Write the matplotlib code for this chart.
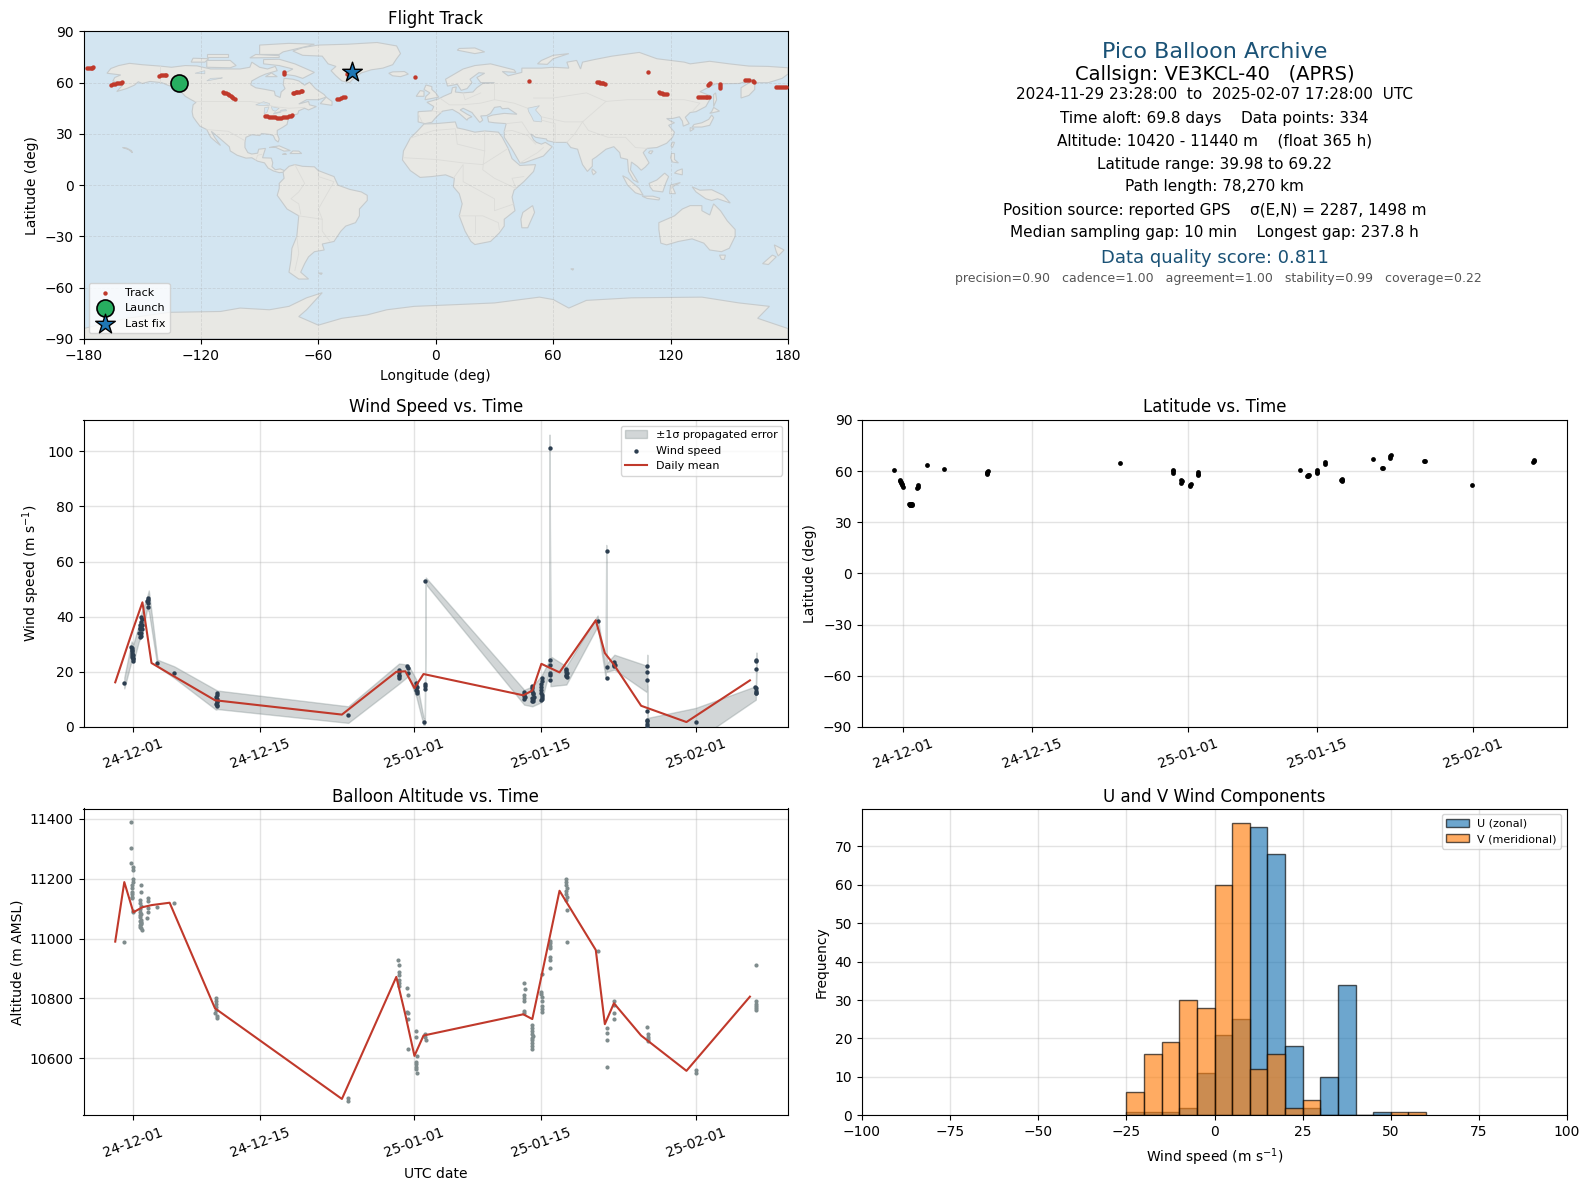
import numpy as np
import matplotlib
matplotlib.use("Agg")
import matplotlib.pyplot as plt
import matplotlib.dates as mdates
from datetime import datetime

# ---- map outlines (lon, lat)
north_america = [(-168,65.5),(-166,68.3),(-162,70),(-156.5,71.3),(-150,70.5),(-141,69.7),(-135,69),(-128,70),(-122,69.8),(-115,68),(-108,68),(-100,68),(-95,69),(-94,72),(-90,69),(-86,68),(-82,69.5),(-81,67),(-87,65),(-90,63.5),(-94,61),(-94.5,58.7),(-92,57),(-87,56),(-82.5,55),(-82,52.5),(-79.5,51.3),(-79,54.5),(-77,56.5),(-78,59),(-77.5,62.5),(-73,62),(-70,61),(-67,58.5),(-64.5,60.3),(-61.5,56.5),(-57,53),(-56,51.5),(-60,50),(-66,50),(-70,47.5),(-65,49),(-64.5,47),(-61,46),(-65,44),(-67,45),(-70,43.5),(-70.5,41.7),(-74,40.5),(-75.5,38),(-76,35.5),(-78,34),(-81,32),(-81,30),(-80,27),(-80.5,25.2),(-82,26.5),(-83,29),(-85,29.7),(-89,30.2),(-90,29),(-94,29.5),(-97,28),(-97.5,25),(-97.5,22),(-96,19),(-94,18.2),(-91,18.7),(-90.5,21),(-87,21.5),(-88,18),(-88.5,16),(-84,15.8),(-83.3,13),(-83.7,10.8),(-82,9),(-79.5,9.5),(-77.3,8.5),(-78,7.5),(-80,7.3),(-83,8.3),(-85.7,10),(-87.5,13),(-91,14),(-94,16),(-97,15.8),(-101.5,17.5),(-105,20),(-105.5,22.5),(-109,26),(-112.5,29.5),(-114.7,31.5),(-113,28),(-110,23.2),(-112,25),(-115,28),(-117,32.5),(-120.5,34.5),(-122.5,37.5),(-124,40),(-124.5,43),(-124,47),(-122.5,48.5),(-125,50),(-128,52),(-130,54.5),(-133,57),(-137,58.5),(-140,60),(-146,60.7),(-150,59.5),(-152,60.5),(-154,58.5),(-158,56.5),(-163,54.8),(-160,58.5),(-162,60),(-165,61),(-164,63),(-161,64.5)]
greenland = [(-73,78.5),(-68,80.5),(-60,82),(-45,82.5),(-30,83.5),(-20,81.5),(-18,77),(-20,74),(-22,70.5),(-27,68.5),(-33,67.5),(-38,65.7),(-42,62.5),(-44,60),(-48,61),(-51,64),(-53.5,67),(-51,69.5),(-55,71),(-58,75.5),(-68,76)]
south_america = [(-77.3,8.5),(-75,11),(-72,12),(-68,11),(-62,10.7),(-60,8.5),(-52,5),(-50,0),(-44,-2.5),(-38,-4),(-35,-6),(-35,-9),(-39,-14),(-39,-18),(-41,-22),(-46,-24),(-48.5,-27),(-52,-33),(-58,-34.5),(-57,-38),(-62,-39),(-65,-42),(-67,-46),(-69,-51),(-65,-55),(-70,-55),(-75,-51),(-74,-44),(-73.5,-37),(-71,-30),(-70,-18),(-76,-14),(-81,-6),(-80,-2),(-80,1),(-77.5,4),(-78,7.5)]
africa = [(-6,35.8),(0,36),(10,37),(11,33.5),(15,32.5),(20,31),(25,31.7),(32,31),(34,28),(37,21.5),(39,15.5),(43,11.5),(51,12),(50,8),(45,2),(40,-3),(39,-7),(40.5,-15),(35,-20),(35,-24),(32.5,-28),(28,-33),(20,-34.8),(18,-33),(15,-27),(12,-18),(13.5,-11),(12,-5),(9,-1),(9.5,4),(5,6),(-2,5),(-8,4.5),(-13,8.5),(-17,14.7),(-16.5,20),(-13,27.5),(-9.5,31.5)]
eurasia = [(-9,38.7),(-9,43),(-2,43.5),(-1,46),(-4.5,48.5),(1.5,50.5),(4,52),(8,54),(8.5,57),(10.5,57.5),(10,54.5),(14,54),(19,54.5),(21,57),(24,59.5),(30,60),(23,60),(21,63),(25,65.5),(22,65.8),(17.5,62),(18.5,60),(16,56.5),(13,55.5),(11,59),(6,58),(5,62),(14,68),(20,70),(28,71),(40,67.5),(41,66),(34,66.5),(37,64),(44,66),(44,68.5),(54,68.5),(60,69),(68,68.5),(67,72),(72,73),(74,68),(75,72),(81,73.5),(90,75.5),(104,77.7),(113,74),(127,72),(130,71),(140,72.5),(150,71),(160,69.7),(170,69.5),(180,68.7),(180,65),(177,62.5),(170,60),(163,60),(163,56),(160,52.5),(156,51),(156,57),(163,62),(155,59.5),(143,59.3),(135,54.7),(141,52),(138,46),(133,43),(130,42.5),(127.5,39.7),(129.5,36),(126.5,34.5),(126,37.5),(124.5,40),(121,39),(118,39),(120,37.5),(122,36.5),(119,35),(122,31),(121,28),(118,24.5),(113,22),(108,21.5),(106,19),(109,13),(107,10.5),(105,8.7),(103,11),(100,13.5),(99.5,9),(103.5,1.5),(101,3),(98.5,8),(98,15),(94.5,16),(94,19),(91,22.5),(87,21),(82,16.5),(80,15),(80,11),(77.5,8),(75,12),(73,19),(72.5,21),(69,22),(67,25),(61,25),(57,26),(56.5,27),(51,28),(48.5,30),(50,26.5),(51.5,25),(54,24),(56,25),(59.5,22.5),(55,17),(45,13),(43,13),(39,21),(35,28),(35,31.5),(36,36),(30,36.5),(27,37),(26.5,40),(29,41),(35,42),(41.5,41.5),(37,45),(34,44.7),(33,46),(30,45.5),(28,42),(26,40.7),(23,40.5),(24,38),(22.5,36.7),(19.5,41),(18.5,42.5),(14,45),(12.5,44),(16,41.5),(18.5,40),(16.5,39),(16,38),(12,42),(8.5,44.3),(3.5,43.3),(0,39.5),(-2,36.8),(-5.5,36),(-9,37)]
australia = [(114,-22),(122,-18),(126,-14),(130,-12),(136,-12),(136,-15),(140,-17.5),(142,-11),(145.5,-15),(149,-21),(153,-26),(153,-30),(150,-37),(146,-39),(140,-38),(137,-34),(131,-31.5),(124,-33),(118,-35),(115,-34),(114,-26)]
antarctica = [(-180,-84),(-158,-78),(-136,-74.5),(-110,-74),(-100,-72),(-85,-73),(-75,-71),(-66,-66),(-58,-63),(-62,-68),(-66,-73),(-70,-77),(-60,-82),(-48,-78),(-35,-76),(-25,-73),(-11,-71),(10,-70),(30,-69),(53,-65.6),(60,-67),(68,-72),(77,-67.5),(100,-66),(136,-65.6),(155,-69),(170.5,-71),(164.5,-78),(180,-84),(180,-90),(-180,-90)]
islands = [
    [(-62,66),(-68,62.5),(-72,64),(-78,65),(-73,68),(-80,70),(-88,71),(-88,73.5),(-80,73.7),(-72,71),(-66,68)],
    [(-117,69),(-105,68.7),(-102,70),(-105,73),(-117,73)],
    [(-125,72),(-118,72),(-116,74),(-124,74.3)],
    [(-90,76.5),(-80,76.5),(-78,78),(-65,81.5),(-62,82.5),(-75,83),(-90,82)],
    [(-95,74.5),(-80,74.7),(-80,75.8),(-92,76.5)],
    [(-117,75),(-106,75),(-106,76.5),(-117,76.5)],
    [(-87,63.5),(-81,63.5),(-84,65.7)],
    [(-59,47.7),(-53,46.7),(-53,49),(-56,51.5)],
    [(-85,22),(-80,23),(-74.3,20.2),(-77.5,19.9),(-82,22.2)],
    [(-74.5,18.5),(-68.5,18.5),(-70,19.9),(-73,20)],
    [(-78.3,18),(-76.3,18),(-77,18.5)],
    [(-160,22),(-157,20.8),(-155,19),(-155.5,20.2),(-158,21.7)],
    [(-5.5,50),(1.5,51.5),(0,54),(-2,56),(-2,57.7),(-5,58.6),(-6,56),(-3,54),(-5,52)],
    [(-10,52),(-6,52),(-6,55),(-8,55.3)],
    [(-24,65.5),(-22,64),(-18,63.5),(-14,65),(-16,66.5),(-22,66.3)],
    [(11,79),(20,77),(25,78),(20,80.3),(12,80)],
    [(52,71),(57,70.7),(60,74),(68,77),(60,76),(54,73)],
    [(142,46),(143.5,50),(143,54),(142,53),(142,48)],
    [(131,34),(136,34),(140,35),(142,39.5),(141,41),(139.5,38.5),(136,36.5),(132,35.5)],
    [(140,42),(145,43.3),(142,45.5),(141,43)],
    [(130,31.5),(132,33),(130,33.7)],
    [(120.2,23),(121,22),(122,25),(121,25.2)],
    [(108.7,19),(110,18.3),(111,20),(109.5,20)],
    [(80,9.5),(82,7.5),(80.5,6),(79.8,8)],
    [(120.5,18.5),(122,18.5),(122,15),(124,13),(121,13.5),(120,16)],
    [(122,7),(126,6),(126,9.5),(123.5,8.5)],
    [(95.5,5.5),(98,4),(104,-2),(106,-6),(102,-4.5),(98,0)],
    [(105.5,-6.5),(111,-6.5),(114.5,-7.7),(114,-8.7),(108,-7.8)],
    [(109,1),(113,3),(117,7),(119,5),(117.5,1),(116,-4),(111,-3.3),(109.5,-1)],
    [(119.5,-5),(120,0),(125,1.5),(121,-1),(122.5,-5)],
    [(131,-1),(135,-3),(141,-2.7),(147,-6),(150.5,-10.5),(144,-8),(141,-9),(138,-8),(133,-4)],
    [(145,-41),(148,-41),(147.5,-43.5),(146,-43.5)],
    [(173,-35),(178,-38),(175,-41.5),(174,-39)],
    [(172,-41),(174,-42),(170,-46.5),(167,-46)],
    [(49.5,-12),(50.5,-16),(47,-25),(44,-25),(43.5,-20),(44.5,-16)],
    [(-60,-51.5),(-58,-51.5),(-58.5,-52.3)],
    [(69,-49),(70.5,-49),(70,-49.8)],
]
lakes = [
    [(47,45),(53,46.5),(51,44),(54,40),(54,37),(50,37.5),(49,40),(47.5,43)],
    [(-92,47),(-88,48.8),(-85,47.8),(-85,46.6),(-90,46.7)],
    [(-87.7,41.8),(-86.3,42.5),(-85.2,45.8),(-87.5,45.3)],
    [(-84,46),(-80,45),(-82,43.2),(-83.5,44)],
    [(-83,41.6),(-79,42.7),(-79.5,43),(-82.5,42.3)],
    [(-79.5,43.3),(-76.3,43.5),(-76.5,44.2),(-79,43.9)],
    [(-123,65.5),(-118,67),(-118,65.2)],
    [(-117,61),(-110,62.5),(-109,62.8),(-115,62.5)],
]
borders = [
    [(-141,60),(-141,69.7)],
    [(-123,49),(-95,49),(-88,48),(-83,46),(-75,45),(-67,45.5)],
    [(-117,32.5),(-106,31.5),(-97.5,26)],
    [(-92,14.5),(-91,17.5),(-89,18)],
    [(-70,-18),(-58,-20),(-58,-27),(-54,-33)],
    [(-72,12),(-67,1),(-70,-4),(-74,-8),(-70,-11),(-69,-17)],
    [(-60,8),(-60,5),(-52,2),(-60,-14),(-58,-20)],
    [(-71,-30),(-70,-40),(-72,-50)],
    [(-13,27.5),(-1,32),(10,33),(11,24),(25,20),(25,31.7)],
    [(-16,16),(0,15),(14,13),(24,12),(37,21.5)],
    [(25,20),(24,9),(30,4),(41,-2),(39,4),(45,5)],
    [(9,4),(14,12),(14,2),(30,-8),(30,-15),(40,-11)],
    [(12,-18),(24,-18),(32,-22),(32.5,-26)],
    [(20,-28),(20,-18)],
    [(30,60),(30,50),(40,48),(47,45)],
    [(50,51),(60,51),(77,54),(87,49),(98,50),(117,50),(127,50),(135,48),(131,43)],
    [(54,40),(66,37),(75,37),(80,42),(87,49)],
    [(75,37),(78,32),(88,28),(97,28),(102,22),(108,21.5)],
    [(61,25),(61,36),(54,38)],
    [(67,25),(71,30),(75,37)],
    [(36,36),(44,37),(48,30)],
    [(35,31.5),(39,32),(47,29),(51,24)],
    [(43,13),(52,19),(55,22)],
    [(2,51),(7,47),(14,47),(23,48),(30,50)],
    [(14,54),(15,50),(23,54)],
    [(-2,43.5),(3,42.5)],
    [(-9,42),(-7,37)],
]

# ---- flight track
track_lons = [-178,-177,-176.4,-175.7,-175,-165.7,-165,-164,-163,-162,-161,-160.3,-141.3,-140.4,-139.5,-138.6,-137.7,-108.7,-108,-107,-106.2,-105.5,-104.8,-104,-103.4,-102.8,-87.3,-86,-85,-84,-83,-82,-81,-80,-79,-78,-77,-76,-75,-74.2,-73.5,-77.4,-77.3,-73,-72.2,-71.5,-70.7,-70,-69.1,-68.3,-50.5,-49.5,-48.5,-47.3,-46.2,-45.3,-10.4,47.6,82.5,83.3,84,84.8,85.5,86.6,108.4,114.1,114.8,115.5,116.2,117,118.2,134.1,135,136,137,138,138.8,139.6,138.9,139.5,140,145,145,145,157.9,159,160.2,162,162.6,174,175,176,177,178,179.2]
track_lats = [68.4,68.5,68.6,68.8,68.9,58.8,59,59.2,59.5,59.7,60,60.1,64,64.2,64.3,64.5,64.6,54.7,54.2,53.7,53.1,52.6,52,51.5,51,50.6,40.4,40.3,40.1,40,39.8,39.6,39.4,39.4,39.4,39.6,40,40.1,40.2,40.5,40.8,65.3,66,54,54.2,54.4,54.6,54.8,55,55.3,50.2,50.6,51,51.4,51.7,65,63.3,61.1,60.3,60.1,60,59.7,59.5,59.2,66.4,54.3,54,53.8,53.6,53.5,53.3,51.7,51.7,51.7,51.7,51.7,51.7,51.7,58.4,59,59.7,59.3,58.2,57,61.7,61.6,61.5,60.9,60.3,57.6,57.6,57.6,57.6,57.6,57.6]
launch_lon, launch_lat = -131, 60
last_lon, last_lat = -43, 66.2

# ---- time series, days counted from 2024-12-01
wind_days = [-1,-0.25,-0.2,-0.15,-0.2,-0.1,-0.1,-0.05,0,0,-0.15,-0.05,0.7,0.65,0.7,0.75,0.75,0.8,0.8,0.85,0.85,0.9,0.9,0.9,0.85,1.6,1.65,1.65,1.6,1.55,2.65,4.5,9.2,9.2,9.15,9.2,9.2,9.2,9.15,9.2,9.2,23.7,29.3,29.3,29.35,29.3,29.3,30.2,30.3,30.3,31.2,31.15,31.25,31.2,31.3,31.3,32,32.2,32.15,32.2,32.15,43.1,43.05,43.1,43.15,43.1,44,43.95,44,44.05,44.1,44.15,44,44.05,44.1,44,45.05,45.05,45,45,45,45,45.05,45.05,45.1,44.95,45.9,46,46,45.9,46,45.9,47.7,47.75,47.75,47.8,47.7,47.75,47.8,51.2,52.2,52.2,52.2,53.05,53.05,53,53.1,53.05,56.65,56.65,56.65,56.65,56.7,56.7,56.7,56.7,62,68.7,68.7,68.7,68.6,68.65,68.7,68.65,68.7]
wind_vals = [16,29,28,27,26,27.5,25.5,25,24.5,26,28.5,24,32.5,34,35.5,36,37,33,36,38,34,37,39,35.5,40,46.8,46,45,43.4,45.5,23.2,19.6,12.3,11.5,10.8,10,9.5,9,8.5,8,7.5,4.35,20.8,20,19,18.5,17.8,22.2,21.5,19.6,16,15,14.5,13.5,13,12.3,1.8,53,15.7,15,13.8,12.6,12,11.3,10.8,10.2,15,14,13.2,12.5,11.8,11,10.5,10,9.5,9.3,17.8,16.5,15.5,14.5,13.5,12.5,11.5,10.8,10.3,9.9,101.2,24.2,22.6,19.6,19,17,21,20.5,20,19.5,19,18.5,18,38.5,63.8,21.8,17.8,23.6,23,22.6,22.3,22,22.1,20,17,5.8,2.7,2,1.2,0.3,1.8,24.4,24,21,14.5,14,13.2,12.5,12.2]
band_days = [-1,-0.2,0,0.6,0.9,1.5,1.7,2.65,4.5,9.1,9.3,23.7,29.3,30.3,31.2,32,32.15,32.25,43.1,44,45,45.85,45.9,46,47.75,51.2,52.1,52.15,52.2,53.05,56.65,56.68,56.72,62,68.65,68.72]
band_lows = [14,24,23.5,31,33,42.5,42,22,17.8,6.3,6.5,1.5,15.7,18.4,11,0.8,0.9,51.8,8.1,7.5,9,20,97,14.8,15.4,36.5,17.5,61,20,20.8,12.6,15,0,-5,9.9,20]
band_highs = [18,31,30,37,41.5,47,49.5,24.4,22,13.5,13.2,7.5,23,22.6,17.2,3.5,3.5,54.2,13.5,14.7,18.5,24,106,25.6,22,40.4,21,66,23,26.2,22.2,26.2,3.3,6.9,14.8,27]
mean_days = [-2,-1,0,1,2,4,9,23,29,30,31,32,43,44,45,47,51,52,53,56,61,68]
wind_mean = [16.2,26,35.8,45.2,23.2,19.3,9.7,4.5,20,20.2,14.1,19.2,11.5,13.2,22.9,19.8,38.7,26.8,22.6,7.7,1.8,16.9]
alt_mean = [10990,11189,11088,11105,11112,11120,10767,10464,10872,10745,10608,10676,10747,10731,10873,11160,10962,10714,10784,10676,10558,10806]

lat_days = [-1,-0.4,-0.35,-0.3,-0.25,-0.2,-0.15,-0.1,0.65,0.7,0.75,0.8,0.85,0.9,0.95,0.7,0.85,1.5,1.55,1.6,2.57,4.4,9.05,9.1,9.15,9.1,23.6,29.3,29.35,29.3,30.2,30.25,30.3,31.15,31.25,31.2,32.05,32.1,32.08,43.1,43.95,44,44.05,44.1,44.95,45,45.02,45.85,45.9,47.65,47.7,47.75,47.7,51.07,52.1,52.15,52.95,53,52.97,56.65,56.7,61.9,68.55,68.6,68.58]
lat_vals = [60.6,55,54.5,53.8,53,52.5,51.8,51,41,40.5,40,40.8,40.2,40.6,40.2,40.2,41,50,51,52,63.7,61.2,58.7,59.3,60,58.5,64.7,60.5,59.2,60,54.8,53.3,54,51.5,52.5,52,57.8,59.3,58.5,60.6,57.3,57.8,57.3,57.6,59,60.5,59.8,64,65.4,54.6,55,55.4,54,67,62,61.6,68,69.5,68.7,65.7,66,51.8,65.4,66.6,66]

alt_points = [(-1,10988),(-0.22,11389),(-0.22,11302),(-0.22,11252),(0,11241),(0,11230),(-0.05,11200),(-0.05,11190),
    (-0.2,11180),(-0.15,11168),(-0.2,11157),(-0.15,11148),(-0.2,11140),(-0.15,11135),(-0.05,11088),(-0.05,11092),
    (0.88,11179),(0.88,11155),(0.75,11130),(0.7,11120),(0.8,11110),(0.75,11100),(0.7,11090),(0.8,11082),(0.75,11072),
    (0.7,11060),(0.8,11052),(0.7,11044),(0.75,11080),(0.85,11062),(0.8,11050),(0.75,11040),(0.85,11035),(0.9,11028),(0.85,11056),
    (1.65,11135),(1.65,11126),(1.6,11102),(1.6,11090),(1.55,11068),(2.65,11107),(4.5,11118),
    (9.1,10800),(9.1,10790),(9.1,10780),(9.1,10770),(9.1,10760),(9.05,10750),(9.2,10740),(9.2,10733),
    (23.7,10468),(23.7,10457),
    (29.2,10929),(29.3,10911),(29.3,10890),(29.3,10879),(29.3,10862),(29.3,10851),(29.35,10840),
    (30.2,10834),(30.3,10811),(30.2,10756),(30.3,10750),(30.25,10731),(30.3,10630),
    (31.2,10691),(31.2,10670),(31.3,10609),(31.2,10589),(31.2,10580),(31.2,10572),(31.2,10565),(31.3,10550),
    (32.2,10680),(32.2,10672),(32.25,10661),
    (43.1,10851),(43.2,10831),(43.1,10812),(43.1,10800),(43.1,10790),(43.1,10758),(43.1,10750),
    (43.95,10711),(44,10700),(43.95,10690),(44,10680),(44.1,10675),(44,10668),(43.95,10660),(44,10650),(44,10640),(43.95,10630),
    (45.1,10881),(45,10823),(45,10815),(45.05,10805),(45.05,10790),(45.05,10775),(45.1,10765),(45.1,10756),
    (46,10993),(45.95,10985),(46,10975),(45.95,10968),(46,10938),(46,10929),(46,10901),
    (47.7,11200),(47.75,11188),(47.75,11178),(47.8,11168),(47.75,11158),(47.7,11148),(47.8,11138),(47.7,11130),(47.85,11095),(47.85,10988),
    (51.2,10959),(52.2,10700),(52.2,10684),(52.2,10660),(52.2,10570),
    (53.05,10790),(53.05,10778),(53,10750),(53.05,10731),
    (56.7,10704),(56.75,10680),(56.75,10670),(56.75,10664),(56.8,10658),
    (62,10561),(62,10550),
    (68.7,10911),(68.65,10790),(68.7,10782),(68.65,10775),(68.7,10768),(68.7,10762)]
alt_days = [p[0] for p in alt_points]
alt_vals = [p[1] for p in alt_points]

# ---- histogram counts per 5 m/s bin
bin_edges = [-25,-20,-15,-10,-5,0,5,10,15,20,25,30,35,40,45,50,55,60]
u_counts = [1,1,1,2,11,21,25,75,68,18,2,10,34,0,1,0,0]
v_counts = [6,16,19,30,28,60,76,12,16,2,4,0,0,0,0,1,1]

# ---- text block
date_ticks = [datetime(2024,12,1),datetime(2024,12,15),datetime(2025,1,1),datetime(2025,1,15),datetime(2025,2,1)]
info_lines = ["2024-11-29 23:28:00  to  2025-02-07 17:28:00  UTC",
              "Time aloft: 69.8 days    Data points: 334",
              "Altitude: 10420 - 11440 m    (float 365 h)",
              "Latitude range: 39.98 to 69.22",
              "Path length: 78,270 km",
              "Position source: reported GPS    σ(E,N) = 2287, 1498 m",
              "Median sampling gap: 10 min    Longest gap: 237.8 h"]
info_ys = [94.5,118,141,164,187,210,233]

red = "#c0392b"
navy = "#1a5276"
W, H = 1590, 1189

def make_axes(x0, y0, x1, y1):
    return fig.add_axes([x0/W, 1-y1/H, (x1-x0)/W, (y1-y0)/H])

def date_axis(ax, left=-5.5):
    t0 = mdates.date2num(datetime(2024,12,1))
    ax.set_xlim(t0+left, t0+72.2)
    ax.set_xticks(date_ticks)
    ax.xaxis.set_major_formatter(mdates.DateFormatter("%y-%m-%d"))
    ax.tick_params(axis="x", rotation=20)
    ax.grid(True, color="#b0b0b0", alpha=0.35, lw=1)
    ax.set_axisbelow(True)

def to_dates(days):
    return mdates.date2num(datetime(2024,12,1)) + np.array(days)

fig = plt.figure(figsize=(W/100, H/100), dpi=100)

# map
ax = make_axes(83.5, 31.4, 788, 338.8)
ax.set_facecolor("#d3e5f1")
for poly in [north_america, greenland, south_america, africa, eurasia, australia, antarctica] + islands:
    xy = np.array(poly)
    ax.fill(xy[:,0], xy[:,1], facecolor="#e8e8e4", edgecolor="#c6cbcd", lw=0.8, zorder=1)
for poly in lakes:
    xy = np.array(poly)
    ax.fill(xy[:,0], xy[:,1], facecolor="#d3e5f1", edgecolor="#c6cbcd", lw=0.5, zorder=1.2)
for line in borders:
    xy = np.array(line)
    ax.plot(xy[:,0], xy[:,1], color="#dcdcd9", lw=0.6, zorder=1.5)
ax.scatter(track_lons, track_lats, s=10, color=red, lw=0, zorder=3, label="Track")
ax.scatter(launch_lon, launch_lat, s=150, color="#27ae60", edgecolor="k", lw=1.2, zorder=4, label="Launch")
ax.scatter(last_lon, last_lat, s=220, marker="*", color="#1f77b4", edgecolor="k", lw=1.0, zorder=5, label="Last fix")
ax.set_xlim(-180, 180)
ax.set_ylim(-90, 90)
ax.set_xticks(np.arange(-180, 181, 60))
ax.set_yticks(np.arange(-90, 91, 30))
ax.grid(True, color="#a0a0a0", alpha=0.28, lw=0.6, ls="--", zorder=2)
ax.set_title("Flight Track", fontsize=12, pad=5)
ax.set_xlabel("Longitude (deg)", labelpad=5)
ax.set_ylabel("Latitude (deg)")
ax.legend(loc="lower left", fontsize=8)

# text block
fig.text(1214.5/W, 1-51.7/H, "Pico Balloon Archive", fontsize=16, color=navy, ha="center", va="center")
fig.text(1214.5/W, 1-74/H, "Callsign: VE3KCL-40   (APRS)", fontsize=14, color="k", ha="center", va="center")
for line, y in zip(info_lines, info_ys):
    fig.text(1214.5/W, 1-y/H, line, fontsize=11, ha="center", va="center")
fig.text(1214.5/W, 1-257.6/H, "Data quality score: 0.811", fontsize=13, color=navy, ha="center", va="center")
fig.text(1218.5/W, 1-278.8/H, "precision=0.90   cadence=1.00   agreement=1.00   stability=0.99   coverage=0.22",
         fontsize=9, color="#555555", ha="center", va="center")

# wind speed
ax = make_axes(83.5, 420, 788, 727)
date_axis(ax)
ax.fill_between(to_dates(band_days), band_lows, band_highs, color="#7f8c8d", alpha=0.35, lw=1, label="±1σ propagated error")
ax.scatter(to_dates(wind_days), wind_vals, s=10, color="#2c3e50", lw=0, label="Wind speed", zorder=3)
ax.plot(to_dates(mean_days), wind_mean, color=red, lw=1.5, label="Daily mean", zorder=4)
ax.set_ylim(0, 111.3)
ax.set_title("Wind Speed vs. Time", fontsize=12)
ax.set_ylabel("Wind speed (m s$^{-1}$)")
ax.legend(loc="upper right", fontsize=8)

# latitude, this panel has no daily mean so its range starts a day later
ax = make_axes(862, 420, 1567, 727)
date_axis(ax, left=-4.51)
ax.scatter(to_dates(lat_days), lat_vals, s=12, color="k", lw=0, zorder=3)
ax.set_ylim(-90, 90)
ax.set_yticks(np.arange(-90, 91, 30))
ax.set_title("Latitude vs. Time", fontsize=12)
ax.set_ylabel("Latitude (deg)")

# altitude
ax = make_axes(83.5, 808.5, 788, 1115.4)
date_axis(ax)
ax.scatter(to_dates(alt_days), alt_vals, s=9, color="#7f8c8d", lw=0, zorder=3)
ax.plot(to_dates(mean_days), alt_mean, color=red, lw=1.5, zorder=4)
ax.set_ylim(10409, 11435)
ax.set_title("Balloon Altitude vs. Time", fontsize=12, pad=5)
ax.set_xlabel("UTC date", labelpad=5)
ax.set_ylabel("Altitude (m AMSL)")

# histogram
ax = make_axes(862, 808.5, 1567, 1115.4)
ax.bar(bin_edges[:-1], u_counts, width=5, align="edge", color="#1f77b4", alpha=0.65, edgecolor="k", lw=1, label="U (zonal)")
ax.bar(bin_edges[:-1], v_counts, width=5, align="edge", color="#ff7f0e", alpha=0.65, edgecolor="k", lw=1, label="V (meridional)")
ax.set_xlim(-100, 100)
ax.set_ylim(0, 79.8)
ax.grid(True, color="#b0b0b0", alpha=0.35, lw=1)
ax.set_axisbelow(True)
ax.set_title("U and V Wind Components", fontsize=12, pad=5)
ax.set_xlabel("Wind speed (m s$^{-1}$)", labelpad=5)
ax.set_ylabel("Frequency")
ax.legend(loc="upper right", fontsize=8)

fig.savefig("out.png", dpi=100)
